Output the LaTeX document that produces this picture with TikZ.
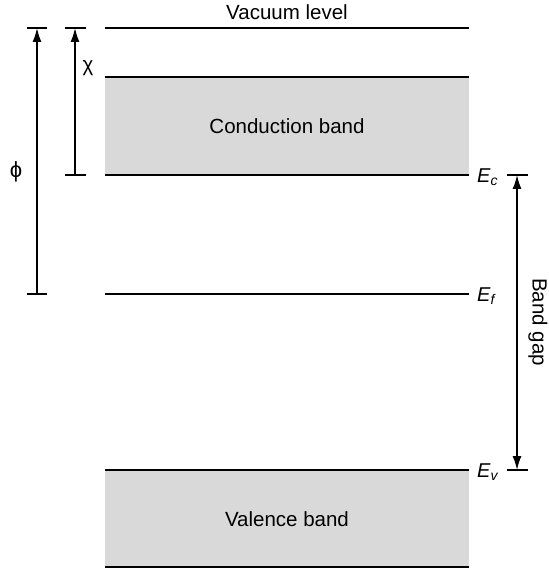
\documentclass[tikz,border=0pt]{standalone}
\usepackage{fontspec}
\setmainfont{Liberation Sans}
\usetikzlibrary{arrows.meta}
\definecolor{bandgray}{HTML}{D9D9D9}
\tikzset{
  level/.style={line width=1.7pt, draw=black},
  dim/.style={line width=1.5pt, -{Latex[length=14pt,width=9pt]}},
  dimboth/.style={line width=1.5pt, {Latex[length=14pt,width=9pt]}-{Latex[length=14pt,width=9pt]}},
  tick/.style={line width=1.5pt},
  lbl/.style={font=\fontsize{20.5}{24}\selectfont, inner sep=0pt},
  elbl/.style={font=\fontsize{20}{24}\selectfont\itshape, inner sep=0pt, anchor=west}
}
\begin{document}
\begin{tikzpicture}[x=1pt,y=-1pt]
\useasboundingbox (0,0) rectangle (548,569);
% bands
\fill[bandgray] (105,77) rectangle (469,175);
\fill[bandgray] (105,470) rectangle (469,567);
\coordinate (vacL) at (105,28); \coordinate (vacR) at (469,28);
\coordinate (cbtL) at (105,77); \coordinate (cbtR) at (469,77);
\coordinate (ecL) at (105,175); \coordinate (ecR) at (469,175);
\coordinate (efL) at (105,294); \coordinate (efR) at (469,294);
\coordinate (evL) at (105,470); \coordinate (evR) at (469,470);
\coordinate (vbbL) at (105,567); \coordinate (vbbR) at (469,567);
\draw[level] (vacL) -- (vacR);
\draw[level] (cbtL) -- (cbtR);
\draw[level] (ecL) -- (ecR);
\draw[level] (efL) -- (efR);
\draw[level] (evL) -- (evR);
\draw[level] (vbbL) -- (vbbR);
% texts
\node[lbl] (vac) at (287,12) {Vacuum level};
\node[lbl] (cb) at (287,126) {Conduction band};
\node[lbl] (vb) at (287,519) {Valence band};
\node[elbl] (Ec) at (477,177) {E\textsubscript{c}};
\node[elbl] (Ef) at (477,296) {E\textsubscript{f}};
\node[elbl] (Ev) at (477,472) {E\textsubscript{v}};
% phi
\coordinate (phiT) at (37,28); \coordinate (phiB) at (37,294);
\coordinate (phiT1) at (27,28); \coordinate (phiT2) at (47,28);
\coordinate (phiB1) at (27,294); \coordinate (phiB2) at (47,294);
\draw[tick] (phiT1) -- (phiT2);
\draw[tick] (phiB1) -- (phiB2);
\draw[dim] (phiB) -- (phiT);
\node[lbl, font=\fontsize{22}{26}\selectfont] (phi) at (16,172) {ϕ};
% chi
\coordinate (chiT) at (75,28); \coordinate (chiB) at (75,175);
\coordinate (chiT1) at (65,28); \coordinate (chiT2) at (86,28);
\coordinate (chiB1) at (65,175); \coordinate (chiB2) at (86,175);
\draw[tick] (chiT1) -- (chiT2);
\draw[tick] (chiB1) -- (chiB2);
\draw[dim] (chiB) -- (chiT);
\node[lbl] (chi) at (88,68) {χ};
% band gap
\coordinate (gT) at (517,175); \coordinate (gB) at (517,470);
\coordinate (gT1) at (507,175); \coordinate (gT2) at (528,175);
\coordinate (gB1) at (507,470); \coordinate (gB2) at (528,470);
\draw[tick] (gT1) -- (gT2);
\draw[tick] (gB1) -- (gB2);
\draw[dimboth] (gT) -- (gB);
\node[lbl, rotate=-90] (gap) at (538,322) {Band gap};
\end{tikzpicture}
\end{document}
